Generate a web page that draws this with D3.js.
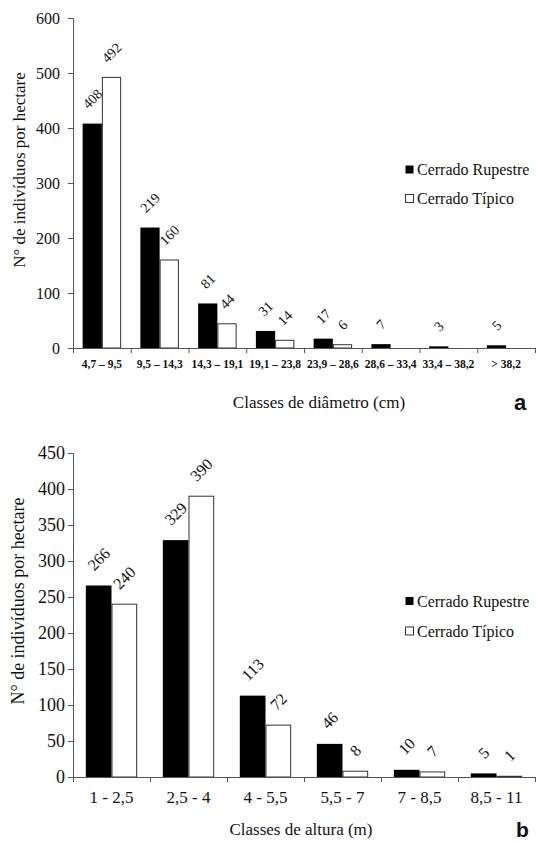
<!DOCTYPE html>
<html>
<head>
<meta charset="utf-8">
<script src="https://cdn.jsdelivr.net/npm/d3@7"></script>
<style>
body { margin: 0; background: #fff; }
svg { display: block; }
text { font-family: "Liberation Serif", "Times New Roman", serif; fill: #111; }
</style>
</head>
<body>
<svg id="chart" width="536" height="842"></svg>
<script>
// chart a - diameter classes
var diamClasses = ["4,7 – 9,5", "9,5 – 14,3", "14,3 – 19,1", "19,1 – 23,8", "23,9 – 28,6", "28,6 – 33,4", "33,4 – 38,2", "> 38,2"];
var diamRupestre = [408, 219, 81, 31, 17, 7, 3, 5];
var diamTipico = [492, 160, 44, 14, 6, 0, 0, 0];
var diamTicks = [0, 100, 200, 300, 400, 500, 600];

// chart b - height classes
var altClasses = ["1 - 2,5", "2,5 - 4", "4 - 5,5", "5,5 - 7", "7 - 8,5", "8,5 - 11"];
var altRupestre = [266, 329, 113, 46, 10, 5];
var altTipico = [240, 390, 72, 8, 7, 1];
var altTicks = [0, 50, 100, 150, 200, 250, 300, 350, 400, 450];

var seriesNames = ["Cerrado Rupestre", "Cerrado Típico"];
var yTitle = "N° de indivíduos por hectare";

var svg = d3.select("#chart");

drawChart({
	classes: diamClasses, rup: diamRupestre, tip: diamTipico, ticks: diamTicks,
	top: 18, bottom: 348, left: 73, right: 535,
	tickFont: 16, tickPad: 8, xFont: 11.5, xBold: true, xPad: 12, labelFont: 14,
	yTitleX: 19, yTitleY: 170, yTitleFont: 17,
	xTitle: "Classes de diâmetro (cm)", xTitleX: 319, xTitleY: 408,
	legY: 169.5, legGap: 29, tag: "a", tagX: 514, tagY: 410, tagFont: 22
});

drawChart({
	classes: altClasses, rup: altRupestre, tip: altTipico, ticks: altTicks,
	top: 453, bottom: 777, left: 73, right: 535,
	tickFont: 18, tickPad: 3, xFont: 17, xBold: false, xPad: 14, labelFont: 16,
	yTitleX: 18, yTitleY: 601, yTitleFont: 18,
	xTitle: "Classes de altura (m)", xTitleX: 301, xTitleY: 835,
	legY: 601, legGap: 30, tag: "b", tagX: 516, tagY: 837, tagFont: 21
});

function drawChart(c) {
	var n = c.classes.length;
	var g = svg.append("g");

	var y = d3.scaleLinear()
		.domain([0, d3.max(c.ticks)])
		.range([c.bottom, c.top]);

	var x = d3.scaleBand()
		.domain(c.classes)
		.range([c.left, c.right]);

	var xSub = d3.scaleBand()
		.domain(["rup", "tip"])
		.range([0, x.bandwidth()])
		.paddingInner(0)
		.paddingOuter(0.5);

	var xEdges = d3.scaleLinear()
		.domain([0, n])
		.range([c.left, c.right]);

	var rows = [];
	c.classes.forEach(function (d, i) {
		rows.push({cls: d, key: "rup", v: c.rup[i]});
		rows.push({cls: d, key: "tip", v: c.tip[i]});
	});

	// bars
	g.selectAll("rect.bar")
		.data(rows.filter(function (d) { return d.v > 0; }))
		.enter()
		.append("rect")
		.attr("class", "bar")
		.attr("x", function (d) { return x(d.cls) + xSub(d.key) + (d.key == "tip" ? 0.5 : 0); })
		.attr("y", function (d) { return y(d.v); })
		.attr("width", function (d) { return xSub.bandwidth() - (d.key == "tip" ? 1 : 0); })
		.attr("height", function (d) { return c.bottom - y(d.v); })
		.attr("fill", function (d) { return d.key == "rup" ? "#000" : "#fff"; })
		.attr("stroke", function (d) { return d.key == "rup" ? "none" : "#333"; })
		.attr("stroke-width", 1);

	// y axis
	var yAxis = g.append("g")
		.attr("transform", "translate(" + c.left + ",0)")
		.call(d3.axisLeft(y).tickValues(c.ticks).tickSize(5).tickPadding(c.tickPad));
	yAxis.selectAll("text").style("font-size", c.tickFont + "px").style("font-family", "Liberation Serif");
	yAxis.selectAll("path, line").attr("stroke", "#555");

	// x axis: ticks at class boundaries
	var xAxis = g.append("g")
		.attr("transform", "translate(0," + c.bottom + ")")
		.call(d3.axisBottom(xEdges).tickValues(d3.range(n + 1)).tickSize(5).tickSizeOuter(0).tickFormat(""));
	xAxis.selectAll("path, line").attr("stroke", "#555");

	var xLab = g.append("g")
		.attr("transform", "translate(0," + c.bottom + ")")
		.call(d3.axisBottom(x).tickSize(0).tickPadding(c.xPad));
	xLab.select(".domain").remove();
	xLab.selectAll("text")
		.style("font-size", c.xFont + "px")
		.style("font-family", "Liberation Serif")
		.style("font-weight", c.xBold ? "bold" : "normal");

	// value labels, rotated
	var labels = g.selectAll("text.val")
		.data(rows.filter(function (d) { return d.v > 0; }))
		.enter()
		.append("text")
		.attr("class", "val")
		.attr("text-anchor", "middle")
		.attr("dy", "0.35em")
		.style("font-size", c.labelFont + "px")
		.text(function (d) { return d.v; });

	labels.each(function (d) {
		var w = this.getComputedTextLength();
		var h = c.labelFont * 0.7;
		var cx = x(d.cls) + xSub(d.key) + xSub.bandwidth() / 2;
		var cy = y(d.v) - 14 - (w + h) * 0.354;
		d3.select(this)
			.attr("x", cx)
			.attr("y", cy)
			.attr("transform", "rotate(-45," + cx + "," + cy + ")");
	});

	// axis titles
	g.append("text")
		.attr("text-anchor", "middle")
		.attr("dy", "0.35em")
		.attr("transform", "translate(" + c.yTitleX + "," + c.yTitleY + ") rotate(-90)")
		.style("font-size", c.yTitleFont + "px")
		.text(yTitle);

	g.append("text")
		.attr("x", c.xTitleX)
		.attr("y", c.xTitleY)
		.attr("text-anchor", "middle")
		.style("font-size", "17px")
		.text(c.xTitle);

	g.append("text")
		.attr("x", c.tagX)
		.attr("y", c.tagY)
		.style("font-family", "Liberation Sans, Arial, sans-serif")
		.style("font-weight", "bold")
		.style("font-size", c.tagFont + "px")
		.text(c.tag);

	// legend
	var leg = g.selectAll("g.leg")
		.data(seriesNames)
		.enter()
		.append("g")
		.attr("class", "leg")
		.attr("transform", function (d, i) { return "translate(405," + (c.legY + i * c.legGap) + ")"; });

	leg.append("rect")
		.attr("x", 0.5)
		.attr("y", -4)
		.attr("width", 8)
		.attr("height", 8)
		.attr("fill", function (d, i) { return i == 0 ? "#000" : "#fff"; })
		.attr("stroke", function (d, i) { return i == 0 ? "none" : "#333"; });

	leg.append("text")
		.attr("x", 12)
		.attr("dy", "0.35em")
		.style("font-size", "16px")
		.text(function (d) { return d; });
}
</script>
</body>
</html>
